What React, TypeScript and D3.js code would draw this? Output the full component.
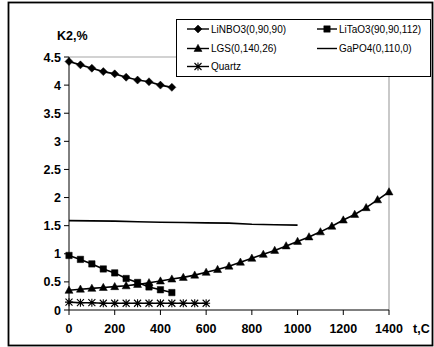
import React from 'react'
import * as d3 from 'd3'

// temperatures, C
const tempShort = [0, 50, 100, 150, 200, 250, 300, 350, 400, 450]
const tempLgs = [0, 50, 100, 150, 200, 250, 300, 350, 400, 450, 500, 550, 600, 650, 700, 750, 800, 850, 900, 950, 1000, 1050, 1100, 1150, 1200, 1250, 1300, 1350, 1400]
const tempGapo4 = [0, 100, 200, 300, 400, 500, 600, 700, 800, 900, 1000]
const tempQuartz = [0, 50, 100, 150, 200, 250, 300, 350, 400, 450, 500, 550, 600]

// K2, %
const liNbo3 = [4.42, 4.36, 4.3, 4.24, 4.2, 4.14, 4.09, 4.06, 4.0, 3.96]
const liTao3 = [0.97, 0.9, 0.82, 0.73, 0.66, 0.56, 0.49, 0.41, 0.36, 0.31]
const lgs = [0.35, 0.37, 0.385, 0.4, 0.415, 0.43, 0.455, 0.485, 0.515, 0.55, 0.58, 0.62, 0.67, 0.72, 0.78, 0.85, 0.92, 0.99, 1.06, 1.14, 1.22, 1.3, 1.39, 1.49, 1.6, 1.7, 1.82, 1.96, 2.1]
const gapo4 = [1.59, 1.585, 1.58, 1.57, 1.56, 1.555, 1.55, 1.545, 1.525, 1.515, 1.51]
const quartz = [0.14, 0.13, 0.13, 0.12, 0.12, 0.12, 0.12, 0.12, 0.12, 0.12, 0.12, 0.12, 0.12]

const xTicks = [0, 200, 400, 600, 800, 1000, 1200, 1400]
const yTicks = [0, 0.5, 1, 1.5, 2, 2.5, 3, 3.5, 4, 4.5]

const FONT = '"Liberation Sans", Arial, sans-serif'

type Marker = 'diamond' | 'square' | 'triangle' | 'star' | 'none'

const markerPath = (m: Marker) => {
  switch (m) {
    case 'diamond': return 'M0,-4L4,0L0,4L-4,0Z'
    case 'square': return 'M-3.2,-3.2H3.2V3.2H-3.2Z'
    case 'triangle': return 'M0,-4.2L4,3L-4,3Z'
    case 'star': return 'M-3.5,-3.5L3.5,3.5M-3.5,3.5L3.5,-3.5M0,-4V4M-4,0H4'
    default: return ''
  }
}

const Mark = ({ m, x, y }: { m: Marker, x: number, y: number }) => {
  if (m === 'none') return null
  const star = m === 'star'
  return (
    <path
      d={markerPath(m)}
      transform={`translate(${x},${y})`}
      fill={star ? 'none' : '#000'}
      stroke="#000"
      strokeWidth={star ? 1.1 : 0.5}
    />
  )
}

const series = [
  { name: 'LiNBO3(0,90,90)', xs: tempShort, ys: liNbo3, marker: 'diamond' as Marker },
  { name: 'LiTaO3(90,90,112)', xs: tempShort, ys: liTao3, marker: 'square' as Marker },
  { name: 'LGS(0,140,26)', xs: tempLgs, ys: lgs, marker: 'triangle' as Marker },
  { name: 'GaPO4(0,110,0)', xs: tempGapo4, ys: gapo4, marker: 'none' as Marker },
  { name: 'Quartz', xs: tempQuartz, ys: quartz, marker: 'star' as Marker },
]

export default function App() {
  const width = 434
  const height = 347
  const x = d3.scaleLinear().domain([0, 1400]).range([69, 389])
  const y = d3.scaleLinear().domain([0, 4.5]).range([310, 57])
  const line = d3.line<[number, number]>().x(d => x(d[0])).y(d => y(d[1]))

  // legend slots
  const legendPos = [
    { lx: 187, ty: 29 }, { lx: 317, ty: 29 },
    { lx: 187, ty: 48.5 }, { lx: 317, ty: 48.5 },
    { lx: 187, ty: 66.5 },
  ]

  return (
    <svg width={width} height={height} style={{ position: 'absolute', left: 0, top: 0, background: '#fff' }} fontFamily={FONT}>
      <rect x={0} y={0} width={width} height={height} fill="#fff" />
      <rect x={8.5} y={2.5} width={424} height={343} fill="none" stroke="#000" strokeWidth={1.8} />

      {/* plot area border (gray) */}
      <path d={`M${x(0)},${y(4.5)}H${x(1400)}V${y(0)}`} fill="none" stroke="#a6a6a6" strokeWidth={1.2} />

      {/* axes */}
      <line x1={x(0)} x2={x(0)} y1={y(0)} y2={y(4.5)} stroke="#000" strokeWidth={1} />
      <line x1={x(0)} x2={x(1400)} y1={y(0)} y2={y(0)} stroke="#000" strokeWidth={1} />
      {yTicks.map(t => (
        <g key={'y' + t}>
          <line x1={x(0) - 5} x2={x(0)} y1={y(t)} y2={y(t)} stroke="#000" />
          <text x={61} y={y(t) + 4.5} textAnchor="end" fontSize={12.5} fontWeight="bold">{String(t)}</text>
        </g>
      ))}
      {xTicks.map(t => (
        <g key={'x' + t}>
          <line x1={x(t)} x2={x(t)} y1={y(0)} y2={y(0) + 5} stroke="#000" />
          <text x={x(t)} y={333} textAnchor="middle" fontSize={12.5} fontWeight="bold">{String(t)}</text>
        </g>
      ))}
      <text x={57} y={40} fontSize={12.5} fontWeight="bold">K2,%</text>
      <text x={413} y={333} fontSize={12.5} fontWeight="bold">t,C</text>

      {/* series */}
      {series.map(s => {
        const pts = s.xs.map((v, i) => [v, s.ys[i]] as [number, number])
        return (
          <g key={s.name}>
            <path d={line(pts) || ''} fill="none" stroke="#000" strokeWidth={1.6} />
            {pts.map((p, i) => <Mark key={i} m={s.marker} x={x(p[0])} y={y(p[1])} />)}
          </g>
        )
      })}

      {/* legend */}
      <rect x={176.5} y={19.5} width={254} height={57} fill="#fff" stroke="#000" strokeWidth={1} />
      {series.map((s, i) => {
        const p = legendPos[i]
        const lw = i % 2 === 0 ? 22 : 20
        return (
          <g key={'lg' + s.name}>
            <line x1={p.lx} x2={p.lx + lw} y1={p.ty} y2={p.ty} stroke="#000" strokeWidth={1.4} />
            <Mark m={s.marker} x={p.lx + lw / 2} y={p.ty} />
            <text x={p.lx + lw + 2} y={p.ty + 3.5} fontSize={10}>{s.name}</text>
          </g>
        )
      })}
    </svg>
  )
}
